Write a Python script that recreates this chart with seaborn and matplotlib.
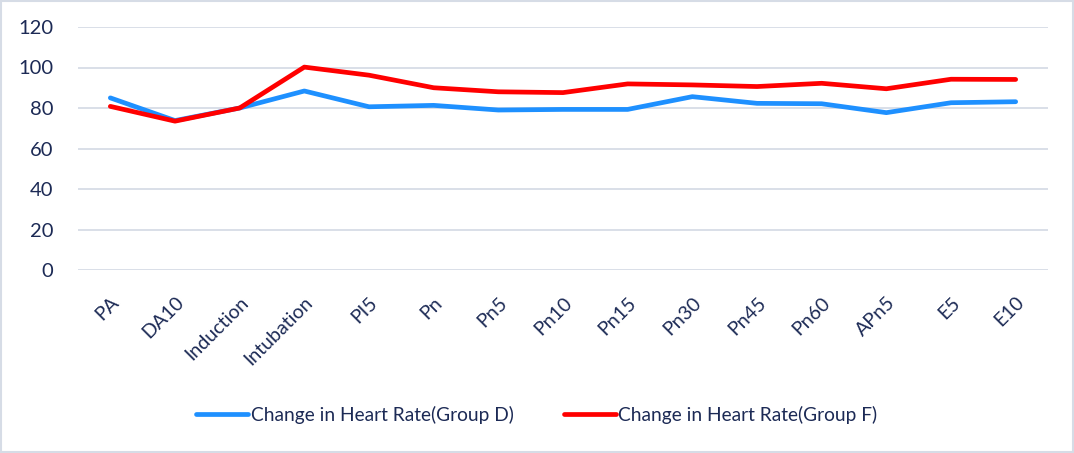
import matplotlib
matplotlib.use("Agg")
import matplotlib.pyplot as plt
import seaborn as sns
import pandas as pd

stages = ["PA", "DA10", "Induction", "Intubation", "PI5", "Pn", "Pn5", "Pn10",
          "Pn15", "Pn30", "Pn45", "Pn60", "APn5", "E5", "E10"]
group_d = [85, 73.8, 80, 88.4, 80.6, 81.3, 79, 79.3, 79.3, 85.6, 82.3, 82.1, 77.7, 82.6, 83.1]
group_f = [80.8, 73.5, 80, 100.2, 96.2, 90, 88, 87.6, 91.9, 91.4, 90.6, 92.2, 89.5, 94.2, 94.1]
series_names = ["Change in Heart Rate(Group D)", "Change in Heart Rate(Group F)"]

df = pd.DataFrame({"stage": stages * 2,
                   "hr": group_d + group_f,
                   "series": [series_names[0]] * len(stages) + [series_names[1]] * len(stages)})
df["pos"] = list(range(len(stages))) * 2

sns.set_style("white")
plt.rcParams["font.family"] = ["Lato", "DejaVu Sans"]
text_col = "#1c2a55"

fig = plt.figure(figsize=(10.74, 4.53), dpi=100)
ax = fig.add_axes([78 / 1074, 1 - 270 / 453, 970 / 1074, 243 / 453])

sns.lineplot(data=df, x="pos", y="hr", hue="series",
             palette=["#1e90ff", "#ff0000"], linewidth=3.4, ax=ax, sort=False)

ax.set_xlim(-0.5, len(stages) - 0.5)
ax.set_ylim(0, 120)
ax.set_yticks(range(0, 121, 20))
ax.set_xticks(range(len(stages)))
ax.set_xticklabels(stages, rotation=45, ha="right", rotation_mode="anchor")
ax.tick_params(axis="x", colors=text_col, labelsize=14, length=0, pad=17)
ax.tick_params(axis="y", colors=text_col, labelsize=14.5, length=0, pad=18)
ax.grid(axis="y", color="#d3d9e4", linewidth=1.2)
ax.set_axisbelow(True)
for s in ax.spines.values():
    s.set_visible(False)
ax.set_xlabel("")
ax.set_ylabel("")

handles, labels = ax.get_legend_handles_labels()
ax.get_legend().remove()
fig.legend(handles, labels, loc="center", bbox_to_anchor=(0.5, 1 - 415 / 453), ncol=2,
           frameon=False, fontsize=13.8, labelcolor=text_col, handlelength=2.7,
           handletextpad=0.15, columnspacing=2.6)

# outer border
fig.patches.append(plt.Rectangle((0.001, 0.002), 0.998, 0.996, transform=fig.transFigure,
                                 fill=False, edgecolor="#d6dce6", linewidth=1.5))

fig.savefig("out.png", dpi=100)
